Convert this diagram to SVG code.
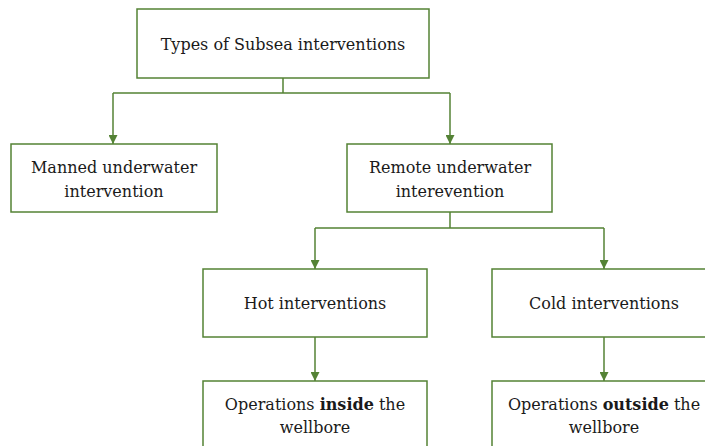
<svg xmlns="http://www.w3.org/2000/svg" width="705" height="446" viewBox="0 0 705 446">
  <style>
    .box { fill: #ffffff; stroke: #548235; stroke-width: 1.5; }
    .link { fill: none; stroke: #548235; stroke-width: 1.5; }
    .label { font-family: "DejaVu Serif", serif; font-size: 16px; fill: #1a1a1a; text-anchor: middle; }
    .strong { font-weight: bold; }
  </style>
  <defs>
    <marker id="arrow" viewBox="0 0 10 10" refX="10" refY="5" markerWidth="9" markerHeight="9" markerUnits="userSpaceOnUse" orient="auto">
      <path d="M0,0 L10,5 L0,10 Z" fill="#548235"/>
    </marker>
  </defs>
  <rect width="705" height="446" fill="#ffffff"/>

  <g id="connectors">
    <path class="link" d="M283,78 V93 M113,93 H450"/>
    <path class="link" d="M113,93 V144" marker-end="url(#arrow)"/>
    <path class="link" d="M450,93 V144" marker-end="url(#arrow)"/>
    <path class="link" d="M450,212 V228 M315,228 H604"/>
    <path class="link" d="M315,228 V269" marker-end="url(#arrow)"/>
    <path class="link" d="M604,228 V269" marker-end="url(#arrow)"/>
    <path class="link" d="M315,337 V381" marker-end="url(#arrow)"/>
    <path class="link" d="M604,337 V381" marker-end="url(#arrow)"/>
  </g>

  <g id="types">
    <rect class="box" x="137" y="9" width="292" height="69"/>
    <text class="label" x="283" y="50">Types of Subsea interventions</text>
  </g>

  <g id="manned">
    <rect class="box" x="11" y="144" width="206" height="68"/>
    <text class="label" x="114" y="173">Manned underwater</text>
    <text class="label" x="114" y="197">intervention</text>
  </g>

  <g id="remote">
    <rect class="box" x="347" y="144" width="205" height="68"/>
    <text class="label" x="450" y="173">Remote underwater</text>
    <text class="label" x="450" y="197">interevention</text>
  </g>

  <g id="hot">
    <rect class="box" x="203" y="269" width="224" height="68"/>
    <text class="label" x="315" y="309">Hot interventions</text>
  </g>

  <g id="cold">
    <rect class="box" x="492" y="269" width="224" height="68"/>
    <text class="label" x="604" y="309">Cold interventions</text>
  </g>

  <g id="inside">
    <rect class="box" x="203" y="381" width="224" height="80"/>
    <text class="label" x="315" y="410">Operations <tspan class="strong">inside</tspan> the</text>
    <text class="label" x="315" y="433">wellbore</text>
  </g>

  <g id="outside">
    <rect class="box" x="492" y="381" width="224" height="80"/>
    <text class="label" x="604" y="410">Operations <tspan class="strong">outside</tspan> the</text>
    <text class="label" x="604" y="433">wellbore</text>
  </g>
</svg>
